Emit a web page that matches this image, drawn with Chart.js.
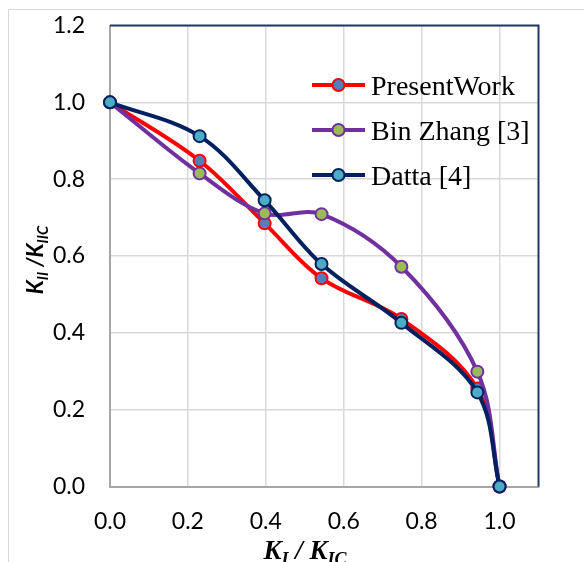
<!DOCTYPE html>
<html><head><meta charset="utf-8">
<script src="https://cdn.jsdelivr.net/npm/chart.js@4/dist/chart.umd.min.js"></script>
<style>html,body{margin:0;padding:0;background:#fff;}#wrap{width:584px;height:562px;position:relative;}</style>
</head><body><div id="wrap"><canvas id="c" width="584" height="562"></canvas></div>
<script>
// ---- data ----
const xValues     = [0, 0.23, 0.397, 0.543, 0.748, 0.943, 1.0];
const presentWork = [1.0, 0.848, 0.685, 0.542, 0.436, 0.255, 0.0];
const binZhang    = [1.0, 0.815, 0.711, 0.709, 0.572, 0.299, 0.0];
const datta       = [1.0, 0.912, 0.745, 0.579, 0.426, 0.245, 0.0];
const seriesNames = ['PresentWork', 'Bin Zhang [3]', 'Datta [4]'];
const xTickValues = [0, 0.2, 0.4, 0.6, 0.8, 1.0];
const yTickValues = [0, 0.2, 0.4, 0.6, 0.8, 1.0, 1.2];
const xTitleParts = [['K', false], ['I', true], [' / ', false], ['K', false], ['IC', true]];
const yTitleParts = [['K', false], ['II', true], [' /', false], ['K', false], ['IIC', true]];

const toPts = ys => ys.map((y, i) => ({x: xValues[i], y: y}));

function mkSet(label, ys, line, fill, order) {
  return {
    label: label, data: toPts(ys), order: order,
    borderColor: line, backgroundColor: line, borderWidth: 4,
    pointRadius: 6, pointHoverRadius: 6, pointBorderWidth: 2,
    pointBackgroundColor: fill, pointBorderColor: line,
    tension: 0.35, cubicInterpolationMode: 'default', clip: false, fill: false
  };
}

const framePlugin = {
  id: 'frame',
  beforeDraw(chart) {
    const c = chart.ctx;
    c.save();
    c.fillStyle = '#fff';
    c.fillRect(0, 0, chart.width, chart.height);
    c.strokeStyle = '#D9D9D9'; c.lineWidth = 1;
    c.beginPath();
    c.moveTo(8.5, chart.height); c.lineTo(8.5, 9.5); c.lineTo(chart.width, 9.5);
    c.stroke();
    c.restore();
  },
  beforeDatasetsDraw(chart) {
    const a = chart.chartArea, c = chart.ctx;
    c.save();
    c.strokeStyle = '#1F3864'; c.lineWidth = 2;
    c.beginPath();
    c.moveTo(a.left, a.top); c.lineTo(a.right, a.top); c.lineTo(a.right, a.bottom);
    c.stroke();
    c.restore();
  },
  afterDraw(chart) {
    const c = chart.ctx;
    c.save();
    // legend
    chart.data.datasets.forEach((ds, i) => {
      const y = 85 + 45 * i;
      c.strokeStyle = ds.borderColor; c.lineWidth = 4; c.lineCap = 'butt';
      c.beginPath(); c.moveTo(312, y); c.lineTo(365, y); c.stroke();
      c.beginPath(); c.arc(338.5, y, 6, 0, Math.PI * 2);
      c.fillStyle = ds.pointBackgroundColor; c.fill();
      c.lineWidth = 2; c.strokeStyle = ds.pointBorderColor; c.stroke();
      c.fillStyle = '#000'; c.font = '28px "Liberation Serif"';
      c.textBaseline = 'alphabetic'; c.textAlign = 'left';
      c.fillText(ds.label, 371, y + 10);
    });
    const measureParts = (parts, big, small, fam) => {
      let w = 0;
      parts.forEach(p => { c.font = 'italic bold ' + (p[1] ? small : big) + 'px ' + fam; w += c.measureText(p[0]).width; });
      return w;
    };
    const renderParts = (parts, big, small, fam, subOff) => {
      let x = 0;
      parts.forEach(p => {
        c.font = 'italic bold ' + (p[1] ? small : big) + 'px ' + fam;
        c.fillText(p[0], x, p[1] ? subOff : 0);
        x += c.measureText(p[0]).width;
      });
    };
    c.fillStyle = '#000'; c.textBaseline = 'alphabetic'; c.textAlign = 'left';
    // x title
    const xf = '"Liberation Serif"';
    const wx = measureParts(xTitleParts, 27, 18, xf);
    c.save(); c.translate(305 - wx / 2, 559);
    renderParts(xTitleParts, 27, 18, xf, 6);
    c.restore();
    // y title
    const yf = 'Lato';
    const wy = measureParts(yTitleParts, 22, 15, yf);
    c.save(); c.translate(43, 260 + wy / 2); c.rotate(-Math.PI / 2);
    renderParts(yTitleParts, 22, 15, yf, 5);
    c.restore();
    c.restore();
  }
};

new Chart(document.getElementById('c'), {
  type: 'line',
  data: {
    datasets: [
      mkSet(seriesNames[0], presentWork, '#FF0000', '#4F81BD', 2),
      mkSet(seriesNames[1], binZhang, '#7030A0', '#9BBB59', 1),
      mkSet(seriesNames[2], datta, '#002060', '#4BACC6', 0)
    ]
  },
  options: {
    responsive: false, animation: false, devicePixelRatio: 1,
    layout: {padding: {left: 0, top: 25.5, right: 45.5, bottom: 0}},
    plugins: {legend: {display: false}, tooltip: {enabled: false}},
    events: [],
    scales: {
      x: {
        type: 'linear', min: 0, max: 1.1,
        afterBuildTicks: s => { s.ticks = xTickValues.map(v => ({value: v})); },
        afterFit: s => { s.height = 75.5; s.paddingLeft = 0; s.paddingRight = 0; },
        grid: {color: '#D9D9D9', lineWidth: 1.5, drawTicks: false},
        border: {color: '#A6A6A6', width: 2},
        ticks: {padding: 21, color: '#000', font: {family: 'Lato', size: 23}, callback: v => Number(v).toFixed(1), maxRotation: 0}
      },
      y: {
        type: 'linear', min: 0, max: 1.2,
        afterBuildTicks: s => { s.ticks = yTickValues.map(v => ({value: v})); },
        afterFit: s => { s.width = 110; s.paddingTop = 0; s.paddingBottom = 0; },
        grid: {color: '#D9D9D9', lineWidth: 1.5, drawTicks: false},
        border: {color: '#A6A6A6', width: 2},
        ticks: {padding: 25, color: '#000', font: {family: 'Lato', size: 23}, callback: v => Number(v).toFixed(1)}
      }
    }
  },
  plugins: [framePlugin]
});
</script></body></html>
